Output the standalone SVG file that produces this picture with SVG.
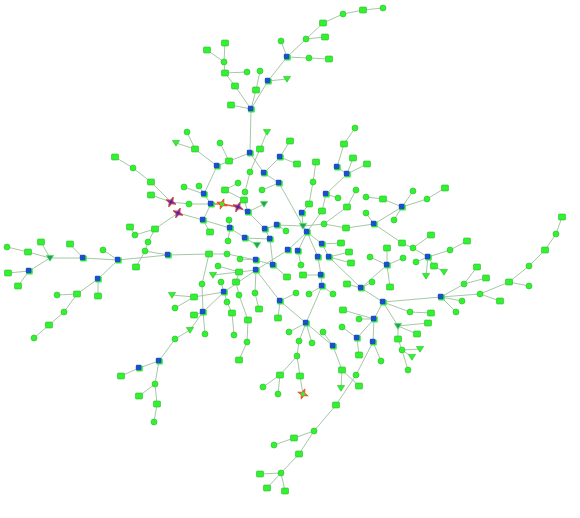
<svg xmlns="http://www.w3.org/2000/svg" xmlns:xlink="http://www.w3.org/1999/xlink" width="580" height="518" viewBox="0 0 580 518">
<style>
.e path{fill:none;stroke:#a6c7a6;stroke-width:1}
.e path.r{stroke:#e8553a;stroke-width:1.3}
</style>
<defs>
<g id="sq"><rect x="-3.5" y="-3" width="7" height="6" rx="1" fill="#33f033" stroke="#24c024" stroke-width="0.6"/></g>
<g id="ci"><circle r="3" fill="#33f033" stroke="#24c024" stroke-width="0.6"/></g>
<g id="tr"><polygon points="-3.6,-2.6 3.6,-2.6 0,3.2" fill="#33f033" stroke="#24c024" stroke-width="0.6"/></g>
<g id="tt"><polygon points="-3.6,-2.6 3.6,-2.6 0,3.2" fill="#2c9a6e" stroke="#33f033" stroke-width="0.7"/></g>
<g id="bl"><rect x="-2.8" y="-2.6" width="6.6" height="6" rx="1" fill="#33f033"/><rect x="-3.2" y="-3.2" width="5.6" height="5.4" rx="1.2" fill="#1c4fc9"/></g>
<g id="so"><polygon points="0,-5.5 1.4,-1.4 5.5,0 1.4,1.4 0,5.5 -1.4,1.4 -5.5,0 -1.4,-1.4" fill="#f06a1e" stroke="#d83a1a" stroke-width="0.6" transform="rotate(20)"/><circle r="2" fill="#33f033"/></g>
<g id="sp"><polygon points="0,-5.5 1.4,-1.4 5.5,0 1.4,1.4 0,5.5 -1.4,1.4 -5.5,0 -1.4,-1.4" fill="#6a2bb0" stroke="#e2402e" stroke-width="0.8" transform="rotate(25)"/><circle r="1.3" fill="#4a2aa0"/></g>
</defs>
<rect width="580" height="518" fill="#ffffff"/>
<g id="connectors" class="e">
<path d="M383 8L363 10"/><path d="M363 10L343 14"/><path d="M343 14L323 23"/><path d="M323 23L306 39"/><path d="M306 39L325 37"/><path d="M306 39L287 57"/><path d="M287 57L281 41"/><path d="M287 57L309 58"/><path d="M309 58L329 59"/><path d="M287 57L268 81"/><path d="M268 81L287 79"/><path d="M260 71L256 90"/><path d="M256 90L251 109"/><path d="M268 81L251 109"/><path d="M225 43L224 62"/><path d="M207 50L224 62"/><path d="M224 62L225 73"/><path d="M225 73L247 72"/><path d="M225 73L235 86"/><path d="M235 86L251 109"/><path d="M231 105L251 109"/><path d="M251 109L250 153"/>
<path d="M250 153L229 161"/><path d="M229 161L220 143"/><path d="M229 161L217 166"/><path d="M217 166L195 149"/><path d="M195 149L187 132"/><path d="M195 149L176 143"/><path d="M250 153L264 173"/><path d="M267 132L260 149"/><path d="M260 149L250 172"/><path d="M290 141L280 157"/><path d="M280 157L297 164"/><path d="M280 157L264 173"/><path d="M355 128L344 144"/><path d="M344 144L337 167"/><path d="M337 167L347 174"/><path d="M353 158L347 174"/><path d="M367 164L347 174"/><path d="M316 162L313 182"/><path d="M313 182L309 204"/><path d="M309 204L302 213"/><path d="M302 213L303 226"/><path d="M264 173L279 183"/><path d="M279 183L262 190"/><path d="M279 183L303 226"/><path d="M347 174L326 194"/><path d="M326 194L338 198"/><path d="M326 194L322 211"/><path d="M322 211L307 232"/><path d="M356 190L347 207"/><path d="M347 207L324 224"/><path d="M366 197L383 199"/><path d="M383 199L402 207"/><path d="M366 213L374 224"/><path d="M303 226L324 224"/><path d="M324 224L346 228"/><path d="M346 228L374 224"/><path d="M374 224L402 207"/><path d="M374 224L402 243"/><path d="M303 226L307 232"/><path d="M307 232L322 244"/><path d="M322 244L341 243"/><path d="M307 232L288 250"/><path d="M307 232L298 251"/><path d="M298 251L301 265"/><path d="M322 244L329 257"/><path d="M307 232L318 257"/><path d="M318 257L321 275"/><path d="M321 275L322 286"/><path d="M322 286L306 323"/><path d="M321 275L303 275"/><path d="M329 257L349 252"/><path d="M329 257L351 263"/><path d="M329 257L361 288"/><path d="M361 288L383 302"/><path d="M361 288L347 284"/><path d="M361 288L372 282"/><path d="M387 265L387 248"/><path d="M387 265L370 257"/><path d="M387 265L403 258"/><path d="M387 265L390 287"/><path d="M387 265L361 288"/>
<path d="M288 250L256 270"/><path d="M256 270L224 292"/><path d="M224 292L203 312"/><path d="M256 270L280 301"/><path d="M280 301L306 323"/><path d="M280 301L278 318"/><path d="M280 301L296 293"/><path d="M322 286L309 294"/><path d="M322 286L333 294"/><path d="M306 323L289 332"/><path d="M306 323L299 341"/><path d="M306 323L312 343"/><path d="M306 323L333 346"/><path d="M333 346L323 332"/><path d="M333 346L342 370"/><path d="M342 370L341 388"/><path d="M342 370L359 386"/><path d="M299 341L297 356"/><path d="M297 356L280 375"/><path d="M297 356L300 376"/><path d="M280 375L263 387"/><path d="M280 375L278 394"/><path d="M300 376L303 394"/><path d="M383 302L374 319"/><path d="M374 319L359 319"/><path d="M374 319L343 310"/><path d="M374 319L357 338"/><path d="M374 319L373 342"/><path d="M357 338L342 327"/><path d="M357 338L359 355"/><path d="M373 342L381 361"/><path d="M373 342L356 375"/><path d="M356 375L336 405"/><path d="M336 405L314 431"/><path d="M314 431L294 438"/><path d="M294 438L274 445"/><path d="M314 431L299 454"/><path d="M299 454L281 473"/><path d="M281 473L260 474"/><path d="M281 473L267 488"/><path d="M281 473L285 491"/>
<path d="M383 302L441 297"/><path d="M383 302L410 312"/><path d="M410 312L431 313"/><path d="M383 302L398 326"/><path d="M398 326L428 323"/><path d="M398 326L417 334"/><path d="M398 326L398 339"/><path d="M398 339L402 350"/><path d="M402 350L420 349"/><path d="M402 350L412 357"/><path d="M402 350L408 370"/><path d="M441 297L464 284"/><path d="M464 284L477 267"/><path d="M464 284L486 278"/><path d="M441 297L462 301"/><path d="M441 297L456 312"/><path d="M441 297L480 294"/><path d="M480 294L500 301"/><path d="M480 294L509 282"/><path d="M509 282L529 286"/><path d="M509 282L529 266"/><path d="M529 266L545 250"/><path d="M545 250L556 234"/><path d="M556 234L562 217"/><path d="M402 207L413 191"/><path d="M402 207L427 199"/><path d="M427 199L445 188"/><path d="M402 207L394 220"/><path d="M402 243L413 248"/><path d="M413 248L431 235"/><path d="M413 248L428 257"/><path d="M428 257L450 250"/><path d="M450 250L467 241"/><path d="M428 257L416 262"/><path d="M428 257L434 266"/><path d="M434 266L444 272"/><path d="M428 257L426 276"/>
<path d="M217 166L204 194"/><path d="M204 194L184 187"/><path d="M204 194L199 186"/><path d="M204 194L211 204"/><path d="M211 204L189 204"/><path class="r" d="M211 204L222 204"/><path class="r" d="M222 204L238 207"/><path d="M238 207L248 212"/><path d="M211 204L203 220"/><path d="M203 220L210 232"/><path d="M203 220L230 228"/><path d="M230 228L229 220"/><path d="M230 228L228 241"/><path d="M230 228L245 238"/><path d="M245 238L257 245"/><path d="M245 238L270 239"/><path d="M248 212L244 200"/><path d="M244 200L225 190"/><path d="M225 190L238 183"/><path d="M250 172L245 192"/><path d="M248 212L264 204"/><path d="M248 212L265 229"/><path d="M265 229L277 225"/><path d="M265 229L270 239"/><path d="M277 225L286 231"/><path d="M277 225L303 226"/><path d="M270 239L273 265"/><path d="M273 265L256 260"/><path d="M273 265L287 277"/><path d="M256 260L240 259"/><path d="M256 260L227 254"/><path d="M227 254L209 254"/><path d="M209 254L168 255"/><path d="M209 254L202 284"/><path d="M202 284L203 312"/><path d="M256 270L239 272"/><path d="M239 272L218 266"/><path d="M239 272L213 275"/><path d="M239 272L236 282"/><path d="M224 292L221 282"/><path d="M224 292L227 302"/><path d="M224 292L194 297"/><path d="M256 270L255 293"/><path d="M255 293L259 309"/><path d="M227 302L232 313"/><path d="M232 313L234 335"/><path d="M236 282L239 295"/><path d="M239 295L248 320"/><path d="M248 320L247 342"/><path d="M247 342L239 360"/><path d="M203 312L194 315"/><path d="M203 312L205 334"/><path d="M203 312L190 330"/><path d="M190 330L175 339"/><path d="M175 339L159 361"/><path d="M159 361L139 368"/><path d="M139 368L121 376"/><path d="M159 361L155 384"/><path d="M155 384L139 396"/><path d="M155 384L157 404"/><path d="M157 404L154 422"/><path d="M194 297L172 295"/><path d="M194 297L175 308"/>
<path d="M115 157L133 168"/><path d="M133 168L151 182"/><path d="M151 182L171 202"/><path d="M171 202L151 195"/><path d="M171 202L189 204"/><path d="M178 213L203 220"/><path d="M178 213L155 229"/><path d="M155 229L135 235"/><path d="M135 235L130 227"/><path d="M155 229L148 242"/><path d="M148 242L145 251"/><path d="M145 251L136 267"/><path d="M145 251L168 255"/><path d="M168 255L118 260"/><path d="M118 260L103 250"/><path d="M118 260L83 258"/><path d="M118 260L98 279"/><path d="M83 258L70 244"/><path d="M83 258L50 258"/><path d="M50 258L41 242"/><path d="M50 258L28 252"/><path d="M28 252L7 247"/><path d="M50 258L29 271"/><path d="M29 271L8 273"/><path d="M29 271L18 286"/><path d="M98 279L98 296"/><path d="M98 279L77 294"/><path d="M77 294L57 295"/><path d="M77 294L64 312"/><path d="M64 312L49 325"/><path d="M49 325L34 338"/>
</g>
<g id="nodes">
<g id="n1"><use href="#ci" x="383" y="8"/></g>
<g id="n2"><use href="#sq" x="363" y="10"/></g>
<g id="n3"><use href="#ci" x="343" y="14"/></g>
<g id="n4"><use href="#sq" x="323" y="23"/></g>
<g id="n5"><use href="#ci" x="306" y="39"/></g>
<g id="n6"><use href="#sq" x="325" y="37"/></g>
<g id="n7"><use href="#ci" x="281" y="41"/></g>
<g id="n8"><use href="#bl" x="287" y="57"/></g>
<g id="n9"><use href="#ci" x="309" y="58"/></g>
<g id="n10"><use href="#sq" x="329" y="59"/></g>
<g id="n11"><use href="#sq" x="225" y="43"/></g>
<g id="n12"><use href="#sq" x="207" y="50"/></g>
<g id="n13"><use href="#ci" x="224" y="62"/></g>
<g id="n14"><use href="#sq" x="225" y="73"/></g>
<g id="n15"><use href="#ci" x="247" y="72"/></g>
<g id="n16"><use href="#ci" x="260" y="71"/></g>
<g id="n17"><use href="#bl" x="268" y="81"/></g>
<g id="n18"><use href="#tr" x="287" y="79"/></g>
<g id="n19"><use href="#sq" x="235" y="86"/></g>
<g id="n20"><use href="#sq" x="256" y="90"/></g>
<g id="n21"><use href="#sq" x="231" y="105"/></g>
<g id="n22"><use href="#bl" x="251" y="109"/></g>
<g id="n23"><use href="#ci" x="187" y="132"/></g>
<g id="n24"><use href="#tr" x="176" y="143"/></g>
<g id="n25"><use href="#sq" x="195" y="149"/></g>
<g id="n26"><use href="#tr" x="267" y="132"/></g>
<g id="n27"><use href="#sq" x="290" y="141"/></g>
<g id="n28"><use href="#ci" x="220" y="143"/></g>
<g id="n29"><use href="#bl" x="250" y="153"/></g>
<g id="n30"><use href="#sq" x="260" y="149"/></g>
<g id="n31"><use href="#bl" x="280" y="157"/></g>
<g id="n32"><use href="#sq" x="297" y="164"/></g>
<g id="n33"><use href="#ci" x="355" y="128"/></g>
<g id="n34"><use href="#sq" x="344" y="144"/></g>
<g id="n35"><use href="#sq" x="353" y="158"/></g>
<g id="n36"><use href="#sq" x="367" y="164"/></g>
<g id="n37"><use href="#bl" x="337" y="167"/></g>
<g id="n38"><use href="#sq" x="316" y="162"/></g>
<g id="n39"><use href="#sq" x="229" y="161"/></g>
<g id="n40"><use href="#bl" x="217" y="166"/></g>
<g id="n41"><use href="#ci" x="250" y="172"/></g>
<g id="n42"><use href="#bl" x="264" y="173"/></g>
<g id="n43"><use href="#bl" x="347" y="174"/></g>
<g id="n44"><use href="#sq" x="115" y="157"/></g>
<g id="n45"><use href="#ci" x="133" y="168"/></g>
<g id="n46"><use href="#ci" x="184" y="187"/></g>
<g id="n47"><use href="#ci" x="199" y="186"/></g>
<g id="n48"><use href="#bl" x="204" y="194"/></g>
<g id="n49"><use href="#ci" x="189" y="204"/></g>
<g id="n50"><use href="#bl" x="211" y="204"/></g>
<g id="n51"><use href="#so" x="222" y="204"/></g>
<g id="n52"><use href="#sp" x="238" y="207"/></g>
<g id="n53"><use href="#bl" x="203" y="220"/></g>
<g id="n54"><use href="#ci" x="229" y="220"/></g>
<g id="n55"><use href="#bl" x="230" y="228"/></g>
<g id="n56"><use href="#sq" x="210" y="232"/></g>
<g id="n57"><use href="#ci" x="228" y="241"/></g>
<g id="n58"><use href="#bl" x="245" y="238"/></g>
<g id="n59"><use href="#tt" x="257" y="245"/></g>
<g id="n60"><use href="#sq" x="209" y="254"/></g>
<g id="n61"><use href="#ci" x="227" y="254"/></g>
<g id="n62"><use href="#ci" x="238" y="183"/></g>
<g id="n63"><use href="#sq" x="225" y="190"/></g>
<g id="n64"><use href="#ci" x="245" y="192"/></g>
<g id="n65"><use href="#sq" x="244" y="200"/></g>
<g id="n66"><use href="#bl" x="248" y="212"/></g>
<g id="n67"><use href="#ci" x="262" y="190"/></g>
<g id="n68"><use href="#bl" x="279" y="183"/></g>
<g id="n69"><use href="#tt" x="264" y="204"/></g>
<g id="n70"><use href="#bl" x="265" y="229"/></g>
<g id="n71"><use href="#bl" x="277" y="225"/></g>
<g id="n72"><use href="#bl" x="270" y="239"/></g>
<g id="n73"><use href="#ci" x="286" y="231"/></g>
<g id="n74"><use href="#ci" x="313" y="182"/></g>
<g id="n75"><use href="#bl" x="326" y="194"/></g>
<g id="n76"><use href="#ci" x="338" y="198"/></g>
<g id="n77"><use href="#ci" x="356" y="190"/></g>
<g id="n78"><use href="#ci" x="366" y="197"/></g>
<g id="n79"><use href="#sq" x="383" y="199"/></g>
<g id="n80"><use href="#sq" x="309" y="204"/></g>
<g id="n81"><use href="#sq" x="322" y="211"/></g>
<g id="n82"><use href="#sq" x="347" y="207"/></g>
<g id="n83"><use href="#bl" x="302" y="213"/></g>
<g id="n84"><use href="#ci" x="366" y="213"/></g>
<g id="n85"><use href="#tt" x="303" y="226"/></g>
<g id="n86"><use href="#bl" x="307" y="232"/></g>
<g id="n87"><use href="#ci" x="324" y="224"/></g>
<g id="n88"><use href="#sq" x="346" y="228"/></g>
<g id="n89"><use href="#bl" x="374" y="224"/></g>
<g id="n90"><use href="#bl" x="322" y="244"/></g>
<g id="n91"><use href="#sq" x="341" y="243"/></g>
<g id="n92"><use href="#bl" x="288" y="250"/></g>
<g id="n93"><use href="#bl" x="298" y="251"/></g>
<g id="n94"><use href="#sq" x="349" y="252"/></g>
<g id="n95"><use href="#sq" x="387" y="248"/></g>
<g id="n96"><use href="#ci" x="240" y="259"/></g>
<g id="n97"><use href="#bl" x="256" y="260"/></g>
<g id="n98"><use href="#bl" x="273" y="265"/></g>
<g id="n99"><use href="#bl" x="318" y="257"/></g>
<g id="n100"><use href="#bl" x="329" y="257"/></g>
<g id="n101"><use href="#ci" x="370" y="257"/></g>
<g id="n102"><use href="#sq" x="351" y="263"/></g>
<g id="n103"><use href="#bl" x="387" y="265"/></g>
<g id="n104"><use href="#ci" x="218" y="266"/></g>
<g id="n105"><use href="#tr" x="213" y="275"/></g>
<g id="n106"><use href="#sq" x="239" y="272"/></g>
<g id="n107"><use href="#bl" x="256" y="270"/></g>
<g id="n108"><use href="#ci" x="301" y="265"/></g>
<g id="n109"><use href="#sq" x="287" y="277"/></g>
<g id="n110"><use href="#sq" x="303" y="275"/></g>
<g id="n111"><use href="#bl" x="321" y="275"/></g>
<g id="n112"><use href="#ci" x="202" y="284"/></g>
<g id="n113"><use href="#ci" x="221" y="282"/></g>
<g id="n114"><use href="#sq" x="236" y="282"/></g>
<g id="n115"><use href="#bl" x="224" y="292"/></g>
<g id="n116"><use href="#bl" x="322" y="286"/></g>
<g id="n117"><use href="#sq" x="347" y="284"/></g>
<g id="n118"><use href="#bl" x="361" y="288"/></g>
<g id="n119"><use href="#ci" x="372" y="282"/></g>
<g id="n120"><use href="#sq" x="194" y="297"/></g>
<g id="n121"><use href="#ci" x="239" y="295"/></g>
<g id="n122"><use href="#ci" x="255" y="293"/></g>
<g id="n123"><use href="#ci" x="296" y="293"/></g>
<g id="n124"><use href="#ci" x="309" y="294"/></g>
<g id="n125"><use href="#ci" x="333" y="294"/></g>
<g id="n126"><use href="#ci" x="227" y="302"/></g>
<g id="n127"><use href="#bl" x="280" y="301"/></g>
<g id="n128"><use href="#bl" x="383" y="302"/></g>
<g id="n129"><use href="#bl" x="203" y="312"/></g>
<g id="n130"><use href="#sq" x="194" y="315"/></g>
<g id="n131"><use href="#sq" x="232" y="313"/></g>
<g id="n132"><use href="#sq" x="259" y="309"/></g>
<g id="n133"><use href="#sq" x="343" y="310"/></g>
<g id="n134"><use href="#ci" x="359" y="319"/></g>
<g id="n135"><use href="#bl" x="374" y="319"/></g>
<g id="n136"><use href="#sq" x="248" y="320"/></g>
<g id="n137"><use href="#sq" x="278" y="318"/></g>
<g id="n138"><use href="#bl" x="306" y="323"/></g>
<g id="n139"><use href="#ci" x="342" y="327"/></g>
<g id="n140"><use href="#ci" x="205" y="334"/></g>
<g id="n141"><use href="#ci" x="234" y="335"/></g>
<g id="n142"><use href="#ci" x="289" y="332"/></g>
<g id="n143"><use href="#ci" x="323" y="332"/></g>
<g id="n144"><use href="#ci" x="247" y="342"/></g>
<g id="n145"><use href="#ci" x="299" y="341"/></g>
<g id="n146"><use href="#ci" x="312" y="343"/></g>
<g id="n147"><use href="#bl" x="357" y="338"/></g>
<g id="n148"><use href="#bl" x="373" y="342"/></g>
<g id="n149"><use href="#bl" x="333" y="346"/></g>
<g id="n150"><use href="#sq" x="151" y="182"/></g>
<g id="n151"><use href="#sp" x="171" y="202"/></g>
<g id="n152"><use href="#sq" x="151" y="195"/></g>
<g id="n153"><use href="#sp" x="178" y="213"/></g>
<g id="n154"><use href="#sq" x="130" y="227"/></g>
<g id="n155"><use href="#sq" x="155" y="229"/></g>
<g id="n156"><use href="#ci" x="135" y="235"/></g>
<g id="n157"><use href="#ci" x="148" y="242"/></g>
<g id="n158"><use href="#ci" x="145" y="251"/></g>
<g id="n159"><use href="#bl" x="168" y="255"/></g>
<g id="n160"><use href="#sq" x="136" y="267"/></g>
<g id="n161"><use href="#bl" x="118" y="260"/></g>
<g id="n162"><use href="#ci" x="103" y="250"/></g>
<g id="n163"><use href="#sq" x="70" y="244"/></g>
<g id="n164"><use href="#bl" x="83" y="258"/></g>
<g id="n165"><use href="#tt" x="50" y="258"/></g>
<g id="n166"><use href="#sq" x="41" y="242"/></g>
<g id="n167"><use href="#sq" x="28" y="252"/></g>
<g id="n168"><use href="#ci" x="7" y="247"/></g>
<g id="n169"><use href="#bl" x="29" y="271"/></g>
<g id="n170"><use href="#sq" x="8" y="273"/></g>
<g id="n171"><use href="#sq" x="18" y="286"/></g>
<g id="n172"><use href="#bl" x="98" y="279"/></g>
<g id="n173"><use href="#sq" x="98" y="296"/></g>
<g id="n174"><use href="#sq" x="77" y="294"/></g>
<g id="n175"><use href="#ci" x="57" y="295"/></g>
<g id="n176"><use href="#ci" x="64" y="312"/></g>
<g id="n177"><use href="#sq" x="49" y="325"/></g>
<g id="n178"><use href="#ci" x="34" y="338"/></g>
<g id="n179"><use href="#tr" x="172" y="295"/></g>
<g id="n181"><use href="#ci" x="175" y="308"/></g>
<g id="n183"><use href="#tr" x="190" y="330"/></g>
<g id="n184"><use href="#ci" x="175" y="339"/></g>
<g id="n185"><use href="#bl" x="159" y="361"/></g>
<g id="n186"><use href="#bl" x="139" y="368"/></g>
<g id="n187"><use href="#sq" x="121" y="376"/></g>
<g id="n188"><use href="#ci" x="155" y="384"/></g>
<g id="n189"><use href="#sq" x="139" y="396"/></g>
<g id="n190"><use href="#sq" x="157" y="404"/></g>
<g id="n191"><use href="#ci" x="154" y="422"/></g>
<g id="n192"><use href="#sq" x="239" y="360"/></g>
<g id="n193"><use href="#ci" x="297" y="356"/></g>
<g id="n194"><use href="#sq" x="359" y="355"/></g>
<g id="n195"><use href="#ci" x="381" y="361"/></g>
<g id="n196"><use href="#sq" x="280" y="375"/></g>
<g id="n197"><use href="#sq" x="300" y="376"/></g>
<g id="n198"><use href="#ci" x="263" y="387"/></g>
<g id="n199"><use href="#ci" x="278" y="394"/></g>
<g id="n200"><use href="#so" x="303" y="394"/></g>
<g id="n201"><use href="#sq" x="342" y="370"/></g>
<g id="n202"><use href="#ci" x="356" y="375"/></g>
<g id="n203"><use href="#tr" x="341" y="388"/></g>
<g id="n204"><use href="#sq" x="359" y="386"/></g>
<g id="n205"><use href="#sq" x="336" y="405"/></g>
<g id="n206"><use href="#ci" x="314" y="431"/></g>
<g id="n207"><use href="#sq" x="294" y="438"/></g>
<g id="n208"><use href="#ci" x="274" y="445"/></g>
<g id="n209"><use href="#sq" x="299" y="454"/></g>
<g id="n210"><use href="#ci" x="281" y="473"/></g>
<g id="n211"><use href="#sq" x="260" y="474"/></g>
<g id="n212"><use href="#sq" x="267" y="488"/></g>
<g id="n213"><use href="#sq" x="285" y="491"/></g>
<g id="n214"><use href="#sq" x="445" y="188"/></g>
<g id="n215"><use href="#ci" x="427" y="199"/></g>
<g id="n216"><use href="#ci" x="413" y="191"/></g>
<g id="n217"><use href="#bl" x="402" y="207"/></g>
<g id="n218"><use href="#ci" x="394" y="220"/></g>
<g id="n219"><use href="#sq" x="402" y="243"/></g>
<g id="n220"><use href="#ci" x="413" y="248"/></g>
<g id="n221"><use href="#sq" x="431" y="235"/></g>
<g id="n222"><use href="#bl" x="428" y="257"/></g>
<g id="n223"><use href="#ci" x="450" y="250"/></g>
<g id="n224"><use href="#sq" x="467" y="241"/></g>
<g id="n225"><use href="#ci" x="403" y="258"/></g>
<g id="n226"><use href="#ci" x="416" y="262"/></g>
<g id="n227"><use href="#sq" x="434" y="266"/></g>
<g id="n228"><use href="#tr" x="426" y="276"/></g>
<g id="n229"><use href="#tr" x="444" y="272"/></g>
<g id="n230"><use href="#sq" x="390" y="287"/></g>
<g id="n231"><use href="#sq" x="477" y="267"/></g>
<g id="n232"><use href="#sq" x="486" y="278"/></g>
<g id="n233"><use href="#ci" x="464" y="284"/></g>
<g id="n234"><use href="#bl" x="441" y="297"/></g>
<g id="n235"><use href="#ci" x="462" y="301"/></g>
<g id="n236"><use href="#ci" x="456" y="312"/></g>
<g id="n237"><use href="#ci" x="480" y="294"/></g>
<g id="n238"><use href="#sq" x="500" y="301"/></g>
<g id="n239"><use href="#sq" x="509" y="282"/></g>
<g id="n240"><use href="#ci" x="529" y="286"/></g>
<g id="n241"><use href="#ci" x="529" y="266"/></g>
<g id="n242"><use href="#sq" x="545" y="250"/></g>
<g id="n243"><use href="#ci" x="556" y="234"/></g>
<g id="n244"><use href="#sq" x="562" y="217"/></g>
<g id="n245"><use href="#ci" x="410" y="312"/></g>
<g id="n246"><use href="#sq" x="431" y="313"/></g>
<g id="n247"><use href="#sq" x="428" y="323"/></g>
<g id="n248"><use href="#tt" x="398" y="326"/></g>
<g id="n249"><use href="#sq" x="417" y="334"/></g>
<g id="n250"><use href="#sq" x="398" y="339"/></g>
<g id="n251"><use href="#ci" x="402" y="350"/></g>
<g id="n252"><use href="#tr" x="420" y="349"/></g>
<g id="n253"><use href="#tr" x="412" y="357"/></g>
<g id="n254"><use href="#ci" x="408" y="370"/></g>
</g>
</svg>
